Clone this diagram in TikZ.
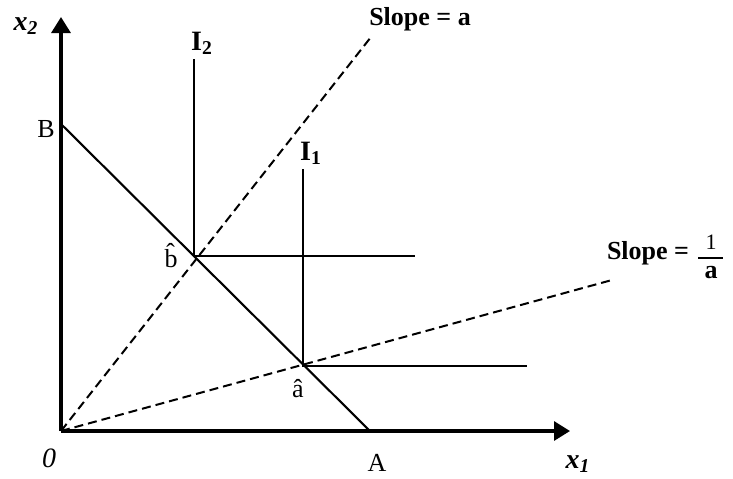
\documentclass[tikz,border=0pt]{standalone}
\usepackage{fontspec}
\setmainfont{Liberation Serif}
\usetikzlibrary{arrows.meta}
\begin{document}
\begin{tikzpicture}[x=0.5pt,y=-0.5pt,
  axis/.style={line width=1.6pt,-{Triangle[length=8pt,width=9.5pt]}},
  budget/.style={line width=1.05pt},
  isoq/.style={line width=1.2pt},
  ray/.style={line width=1pt,dash pattern=on 4.5pt off 2.5pt},
  slopelbl/.style={inner sep=0pt,font=\fontsize{13}{15}\selectfont\bfseries},
  isolbl/.style={inner sep=0pt,font=\fontsize{14}{16}\selectfont\bfseries},
  axlbl/.style={inner sep=0pt,font=\fontsize{14}{16}\selectfont\bfseries\itshape},
  ptlbl/.style={inner sep=0pt,font=\fontsize{13}{15}\selectfont}]
\useasboundingbox (0,0) rectangle (733,478);
% coordinates
\coordinate (O) at (61,431);
\coordinate (Ytop) at (61,17);
\coordinate (Xend) at (570,431);
\coordinate (B) at (61,124);
\coordinate (A) at (370,431);
\coordinate (bh) at (194,256);
\coordinate (I2top) at (194,59);
\coordinate (I2end) at (415,256);
\coordinate (ah) at (303,366);
\coordinate (I1top) at (303,169);
\coordinate (I1end) at (527,366);
\coordinate (Ra) at (371,37);
\coordinate (Rinv) at (612,280);
\coordinate (barL) at (698,258);
\coordinate (barR) at (723,258);
% rays
\draw[ray] (O) -- (Ra);
\draw[ray] (O) -- (Rinv);
% budget line
\draw[budget] (B) -- (A);
% isoquants
\draw[isoq] (I2top) -- (bh) -- (I2end);
\draw[isoq] (I1top) -- (ah) -- (I1end);
% axes
\draw[axis] (O) -- (Ytop);
\draw[axis] (O) -- (Xend);
% labels
\node[axlbl] (x2) at (26,26) {x\textsubscript{2}};
\node[axlbl] (x1) at (578,464) {x\textsubscript{1}};
\node[ptlbl,font=\fontsize{14}{16}\selectfont\itshape] (zero) at (49,458) {0};
\node[ptlbl] (Alab) at (377,463) {A};
\node[ptlbl] (Blab) at (46,129) {B};
\node[ptlbl] (bhlab) at (171,256) {\^{b}};
\node[ptlbl] (ahlab) at (298,389) {â};
\node[isolbl] (I2lab) at (202,43) {I\textsubscript{2}};
\node[isolbl] (I1lab) at (311,153) {I\textsubscript{1}};
\node[slopelbl] (sa) at (420,19) {Slope = a};
\node[slopelbl] (sinv) at (648,253) {Slope =};
\node[ptlbl,font=\fontsize{11}{13}\selectfont] (num) at (711,242) {1};
\node[slopelbl] (den) at (711,273) {a};
\draw[line width=0.8pt] (barL) -- (barR);
\end{tikzpicture}
\end{document}
